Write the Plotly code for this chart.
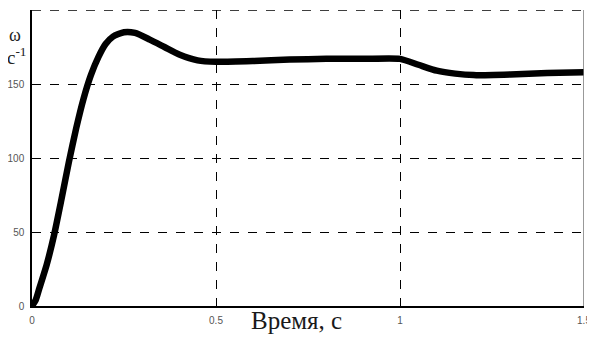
import plotly.graph_objects as go

t = [0, 0.01, 0.02, 0.04, 0.06, 0.08, 0.10, 0.12, 0.14, 0.16, 0.18, 0.20, 0.22, 0.25, 0.28,
     0.32, 0.36, 0.40, 0.45, 0.50, 0.6, 0.7, 0.8, 0.9, 1.0, 1.05, 1.10, 1.15, 1.2, 1.3, 1.4, 1.5]
omega = [0, 4, 12, 28, 48, 72, 97, 120, 140, 156, 168, 177, 182, 185, 184.5,
         180, 175, 170, 166, 165, 165.5, 166.5, 167, 167, 167, 163, 159, 157, 156, 156.5, 157.5, 158]

xticks = [0, 0.5, 1, 1.5]
xticklabels = ["0", "0.5", "1", "1.5"]
yticks = [0, 50, 100, 150, 200]
yticklabels = ["0", "50", "100", "150", "200"]

fig = go.Figure()
fig.add_trace(go.Scatter(x=t, y=omega, mode="lines",
                         line=dict(color="black", width=6.5, shape="spline", smoothing=0.6),
                         hoverinfo="skip"))

tickfont = dict(family="Liberation Sans Narrow, Liberation Sans, Arial", size=10, color="#555")
fig.update_xaxes(range=[0, 1.5], tickvals=xticks, ticktext=xticklabels, tickfont=tickfont,
                 showgrid=True, gridcolor="black", griddash="dash", gridwidth=1,
                 showline=True, linecolor="black", linewidth=1.5, ticks="", zeroline=False,
                 ticklabelstandoff=4, automargin=False)
fig.update_yaxes(range=[0, 200], tickvals=yticks, ticktext=yticklabels, tickfont=tickfont,
                 showgrid=True, gridcolor="black", griddash="dash", gridwidth=1,
                 showline=True, linecolor="black", linewidth=1.5, ticks="", zeroline=False,
                 ticklabelstandoff=4, automargin=False)

fig.add_shape(type="line", xref="x", yref="y", x0=1.5, x1=1.5, y0=0, y1=200,
              line=dict(color="#777", width=1.5))
fig.add_shape(type="line", xref="x", yref="y", x0=0, x1=1.5, y0=200, y1=200,
              line=dict(color="black", width=1.5, dash="dash"))

serif = "Liberation Serif, Times New Roman, serif"
fig.add_annotation(text="Время, с", xref="paper", yref="paper", x=0.48, y=-0.05,
                   xanchor="center", yanchor="middle", showarrow=False,
                   font=dict(family=serif, size=25, color="#1a1a1a"))
fig.add_annotation(text="ω", xref="paper", yref="paper", x=-0.03, y=0.915,
                   xanchor="center", yanchor="middle", showarrow=False,
                   font=dict(family=serif, size=18, color="#222"))
fig.add_annotation(text="c<sup>-1</sup>", xref="paper", yref="paper", x=-0.028, y=0.845,
                   xanchor="center", yanchor="middle", showarrow=False,
                   font=dict(family=serif, size=19, color="#222"))

fig.update_layout(width=587, height=329, margin=dict(l=24, r=11, t=2, b=31, autoexpand=False),
                  plot_bgcolor="white", paper_bgcolor="white", showlegend=False)
fig.write_html("out.html")
